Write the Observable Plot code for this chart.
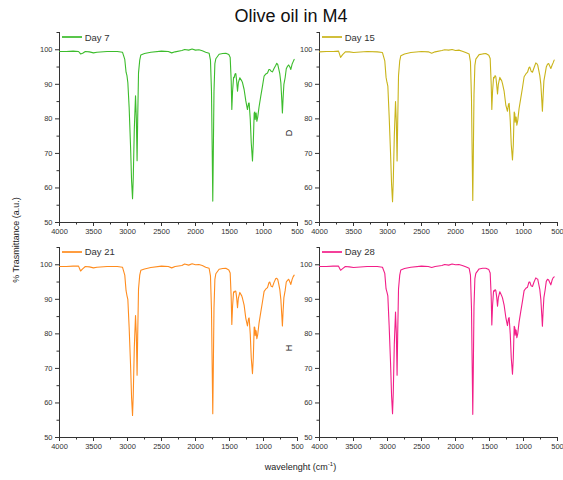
<!DOCTYPE html>
<html><head><meta charset="utf-8">
<script src="https://cdn.jsdelivr.net/npm/d3@7"></script>
<script src="https://cdn.jsdelivr.net/npm/@observablehq/plot@0.6"></script>
<style>
body{margin:0;background:#fff;font-family:"Liberation Sans",Arial,sans-serif;}
#wrap{position:relative;width:563px;height:480px;overflow:hidden;background:#fff;}
.panel{position:absolute;width:290px;height:215px;}
.panel svg{overflow:visible;max-width:none !important;}
.rot{position:absolute;transform:translate(-50%,-50%) rotate(-90deg);white-space:nowrap;color:#222;font-size:9px;}
.legend{position:absolute;display:flex;align-items:center;font-size:9.5px;color:#333;white-space:nowrap;}
.legend span.sw{display:inline-block;width:20px;height:0;border-top:2px solid;margin-right:3px;opacity:0.85;}
</style></head><body><div id="wrap"></div>
<script>
const wavenumbers = [
  4000, 3900, 3800, 3720, 3690, 3660, 3620, 3560, 3500, 3450,
  3300, 3150, 3074, 3040, 3021, 3008, 2995, 2976, 2955, 2940,
  2926, 2915, 2900, 2882, 2870, 2859, 2850, 2838, 2820, 2804,
  2750, 2657, 2500, 2400, 2350, 2300, 2200, 2160, 2100, 2050,
  2000, 1950, 1900, 1850, 1800, 1780, 1765, 1755, 1746, 1738,
  1728, 1715, 1701, 1653, 1600, 1554, 1510, 1490, 1475, 1466,
  1455, 1440, 1432, 1418, 1407, 1395, 1382, 1370, 1348, 1320,
  1309, 1285, 1260, 1236, 1220, 1211, 1195, 1180, 1162, 1150,
  1137, 1128, 1122, 1115, 1108, 1098, 1085, 1065, 1040, 1015,
  991, 965, 941, 920, 907, 888, 868, 845, 819, 805,
  790, 780, 760, 745, 730, 722, 712, 700, 682, 665,
  647, 630, 612, 598, 580, 565, 549
];
const day7 = [
  99.5, 99.5, 99.6, 99.5, 98.8, 99.0, 99.5, 99.4, 99.1, 99.3,
  99.5, 99.5, 99.3, 97.2, 93.5, 92.5, 90.5, 83.4, 72.0, 62.0,
  56.9, 63.0, 77.0, 86.7, 80.0, 67.9, 80.0, 93.3, 97.0, 98.5,
  98.9, 99.3, 99.6, 99.5, 99.1, 99.4, 99.8, 100.1, 99.9, 100.2,
  99.9, 100.0, 99.7, 99.3, 99.0, 97.0, 88.0, 72.0, 56.2, 70.0,
  88.0, 96.0, 97.4, 98.7, 98.9, 99.0, 98.6, 97.8, 91.0, 82.7,
  88.0, 92.0, 91.9, 93.0, 93.1, 91.0, 88.0, 90.5, 91.9, 91.0,
  90.5, 88.5, 85.2, 82.7, 84.5, 84.6, 80.0, 73.0, 67.8, 73.0,
  81.7, 82.0, 79.8, 81.5, 81.7, 79.3, 80.5, 83.5, 86.6, 89.5,
  92.4, 93.0, 93.3, 94.3, 94.3, 93.8, 93.6, 94.6, 95.5, 96.1,
  95.7, 94.8, 93.0, 90.5, 85.0, 81.7, 86.0, 90.0, 91.9, 94.5,
  95.2, 95.6, 95.0, 94.3, 95.8, 96.5, 97.2
];
const day15 = [
  99.4, 99.5, 99.5, 99.6, 97.8, 98.6, 99.4, 99.4, 99.2, 99.3,
  99.5, 99.4, 99.2, 96.8, 92.0, 90.6, 89.5, 81.0, 70.0, 61.0,
  56.0, 62.0, 75.0, 85.0, 79.0, 67.8, 79.0, 92.5, 96.8, 98.3,
  98.8, 99.2, 99.5, 99.4, 99.0, 99.4, 99.8, 100.0, 99.9, 100.1,
  99.8, 99.9, 99.6, 99.2, 98.8, 96.5, 86.0, 70.0, 56.4, 69.0,
  87.0, 95.5, 97.3, 98.6, 98.8, 98.9, 98.4, 97.5, 90.0, 82.7,
  88.0, 92.0, 91.8, 92.5, 92.2, 90.0, 87.2, 90.0, 92.0, 91.0,
  90.2, 88.0, 84.0, 82.2, 84.3, 84.5, 79.5, 72.5, 68.1, 72.5,
  82.0, 81.5, 79.0, 80.5, 80.5, 78.2, 79.5, 83.0, 86.0, 89.0,
  92.2, 93.0, 93.5, 94.8, 95.0, 93.8, 93.5, 94.8, 96.2, 96.0,
  95.5, 94.5, 92.5, 90.0, 85.0, 82.2, 86.5, 91.0, 93.0, 95.0,
  95.8, 96.0, 95.2, 94.6, 95.5, 96.2, 97.0
];
const day21 = [
  99.5, 99.5, 99.6, 99.6, 98.2, 98.8, 99.5, 99.4, 99.1, 99.3,
  99.5, 99.5, 99.3, 97.0, 92.5, 91.1, 90.0, 82.0, 71.0, 61.5,
  56.4, 62.5, 76.0, 85.3, 79.5, 68.0, 79.5, 93.0, 97.0, 98.4,
  98.8, 99.2, 99.6, 99.5, 99.1, 99.5, 99.8, 100.2, 99.9, 100.3,
  100.0, 100.1, 99.8, 99.3, 99.0, 96.8, 87.0, 71.0, 56.9, 70.0,
  87.5, 95.8, 97.4, 98.7, 98.9, 99.0, 98.5, 97.6, 90.5, 82.7,
  88.0, 92.2, 92.0, 92.4, 92.3, 90.5, 87.6, 90.3, 92.0, 91.0,
  90.3, 88.3, 84.5, 82.3, 84.4, 84.6, 80.0, 73.0, 68.5, 73.0,
  82.0, 81.8, 79.5, 81.0, 80.8, 78.6, 79.8, 83.2, 86.3, 89.3,
  92.3, 93.0, 93.4, 94.8, 95.0, 93.8, 93.6, 94.9, 96.0, 96.1,
  95.7, 94.8, 92.8, 90.0, 85.0, 82.3, 86.5, 90.5, 92.5, 95.0,
  95.5, 95.8, 95.0, 94.3, 95.7, 96.5, 97.0
];
const day28 = [
  99.5, 99.5, 99.6, 99.6, 98.4, 98.9, 99.5, 99.4, 99.2, 99.3,
  99.5, 99.5, 99.3, 97.5, 93.0, 92.1, 91.0, 82.5, 71.5, 62.0,
  56.9, 63.0, 77.0, 86.3, 80.0, 68.0, 80.0, 93.0, 97.0, 98.5,
  98.9, 99.3, 99.6, 99.5, 99.2, 99.5, 99.8, 100.1, 99.9, 100.2,
  100.0, 100.1, 99.8, 99.4, 99.0, 97.0, 87.5, 71.5, 56.7, 70.0,
  88.0, 96.0, 97.5, 98.8, 99.0, 99.0, 98.6, 97.6, 90.8, 82.6,
  88.2, 92.5, 92.3, 92.8, 92.5, 90.8, 88.0, 90.5, 92.2, 91.0,
  90.4, 88.3, 84.8, 82.4, 84.5, 84.7, 80.0, 73.0, 68.3, 73.0,
  82.2, 81.8, 79.6, 81.2, 81.0, 78.9, 80.0, 83.4, 86.5, 89.5,
  92.5, 93.2, 93.5, 95.0, 95.0, 93.9, 93.7, 95.0, 96.2, 96.0,
  95.8, 94.8, 92.8, 90.0, 85.0, 82.2, 86.5, 90.5, 92.7, 95.2,
  95.8, 95.6, 94.8, 94.2, 95.5, 96.2, 96.5
];
const dayLabels = ["Day 7", "Day 15", "Day 21", "Day 28"];
const dayColors = ["#3cbc2c", "#c9b41a", "#ff8c1e", "#f21e88"];
const panelLetters = ["", "D", "", "H"];
const xTicks = [4000, 3500, 3000, 2500, 2000, 1500, 1000, 500];
const xMinor = [3750, 3250, 2750, 2250, 1750, 1250, 750];
const yTicks = [50, 60, 70, 80, 90, 100];
const yMinor = [55, 65, 75, 85, 95, 105];

const series = [day7, day15, day21, day28];
const wrap = document.getElementById("wrap");

// panel placement (svg origin)
const places = [[18.7, 27], [278.7, 27], [18.7, 241.7], [278.7, 241.7]];

series.forEach((vals, k) => {
  const data = wavenumbers.map((w, i) => ({w, t: vals[i]}));
  const chart = Plot.plot({
    width: 290, height: 215,
    marginLeft: 40, marginRight: 12, marginTop: 5, marginBottom: 20,
    x: {domain: [4000, 500]},
    y: {domain: [50, 105]},
    style: {fontFamily: "Liberation Sans, Arial, sans-serif", fontSize: "7.5px", color: "#333", background: "transparent", maxWidth: "none", overflow: "visible"},
    marks: [
      Plot.axisX({ticks: xTicks, tickSize: 4, tickPadding: 2, label: null, tickFormat: d => String(d)}),
      Plot.axisX({ticks: xMinor, tickSize: 2.5, label: null, tickFormat: () => ""}),
      Plot.axisY({ticks: yTicks, tickSize: 4, tickPadding: 3, label: null, tickFormat: d => String(d)}),
      Plot.axisY({ticks: yMinor, tickSize: 2.5, label: null, tickFormat: () => ""}),
      Plot.ruleY([50], {stroke: "#333", strokeWidth: 1}),
      Plot.ruleX([4000], {stroke: "#333", strokeWidth: 1}),
      Plot.line(data, {x: "w", y: "t", stroke: dayColors[k], strokeWidth: 1.1})
    ]
  });
  const div = document.createElement("div");
  div.className = "panel";
  div.style.left = places[k][0] + "px";
  div.style.top = places[k][1] + "px";
  div.appendChild(chart);
  wrap.appendChild(div);

  const lg = document.createElement("div");
  lg.className = "legend";
  lg.style.left = (places[k][0] + 43) + "px";
  lg.style.top = (places[k][1] + 4) + "px";
  lg.style.height = "12px";
  lg.innerHTML = `<span class="sw" style="border-color:${dayColors[k]}"></span><span>${dayLabels[k]}</span>`;
  wrap.appendChild(lg);

  if (panelLetters[k]) {
    const l = document.createElement("div");
    l.className = "rot";
    l.textContent = panelLetters[k];
    l.style.left = "289px";
    l.style.top = (places[k][1] + 106) + "px";
    wrap.appendChild(l);
  }
});

const title = document.createElement("div");
title.textContent = "Olive oil in M4";
title.style.cssText = "position:absolute;left:0;width:582px;top:6px;text-align:center;font-size:18px;color:#111;";
wrap.appendChild(title);

const ylab = document.createElement("div");
ylab.className = "rot";
ylab.textContent = "% Trasmittance (a.u.)";
ylab.style.left = "16px";
ylab.style.top = "240px";
wrap.appendChild(ylab);

const xlab = document.createElement("div");
xlab.innerHTML = "wavelenght (cm<sup style='font-size:6px'>-1</sup>)";
xlab.style.cssText = "position:absolute;left:0;width:601px;top:461px;text-align:center;font-size:9px;color:#222;";
wrap.appendChild(xlab);
</script></body></html>
